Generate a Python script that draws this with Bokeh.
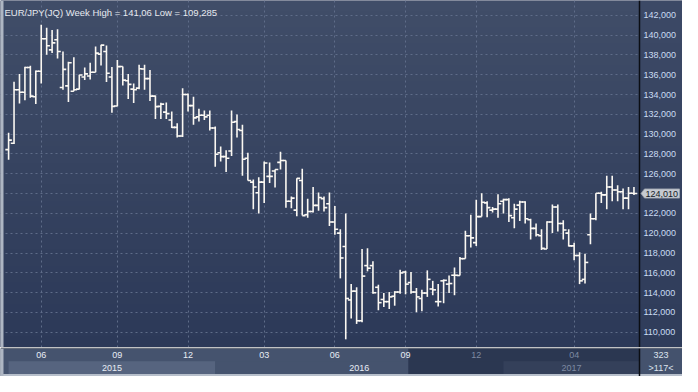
import numpy as np
from bokeh.plotting import figure
from bokeh.models import Range1d, FixedTicker, CustomJSTickFormatter, Label, ColumnDataSource
from bokeh.layouts import column
from bokeh.embed import file_html
from bokeh.resources import INLINE
from bokeh.core.properties import value

# ---------------- data (weekly OHLC, EUR/JPY) ----------------
opens = [128.44, 129.09, 134.49, 134.23, 136.74, 133.78, 136.35, 139.63, 138.51, 139.54,
         134.71, 134.88, 134.33, 134.55, 135.77, 135.87, 136.26, 138.09, 138.35, 135.77,
         132.85, 136.84, 135.39, 134.55, 134.65, 136.58, 135.61, 133.84, 132.81, 132.23,
         131.43, 130.69, 129.82, 134.01, 132.88, 131.75, 131.91, 131.91, 130.63, 128.12,
         127.73, 128.31, 131.27, 130.37, 127.57, 125.16, 124.09, 125.16, 125.74, 126.29,
         127.15, 127.35, 123.23, 122.33, 125.32, 121.87, 122.19, 122.81, 123.49, 122.97,
         121.13, 120.01, 118.66, 113.26, 114.15, 111.16, 116.73, 116.73, 114.54, 113.31,
         113.09, 113.64, 114.06, 116.08, 115.02, 114.06, 113.41, 113.96, 114.37, 113.09,
         115.19, 114.86, 115.76, 115.73, 117.43, 119.75, 119.05, 121.68, 123.06, 122.33,
         122.43, 123.23, 123.39, 121.56, 122.84, 123.16, 121.36, 120.49, 119.75, 118.40,
         121.13, 122.65, 120.98, 120.01, 118.72, 117.75, 115.34, 119.85, 121.46, 124.03,
         123.87, 124.67, 124.36, 124.19, 123.54, 124.03]
highs = [130.15, 135.29, 136.09, 136.81, 136.90, 136.42, 141.06, 140.76, 140.53, 140.60,
         138.35, 137.32, 137.77, 136.00, 136.74, 137.22, 138.86, 139.03, 138.96, 136.79,
         137.48, 136.84, 136.09, 135.13, 137.00, 137.00, 136.48, 133.91, 133.18, 133.20,
         132.30, 131.11, 134.65, 134.10, 133.78, 132.56, 132.40, 132.40, 130.78, 128.76,
         128.37, 132.40, 131.98, 130.95, 128.12, 125.42, 125.64, 127.25, 127.15, 126.44,
         128.22, 127.35, 123.71, 125.54, 126.51, 123.49, 124.67, 124.12, 123.71, 124.12,
         122.74, 120.40, 122.00, 114.86, 114.54, 118.40, 118.47, 117.17, 114.80, 113.96,
         114.06, 114.15, 116.31, 116.21, 116.08, 114.47, 114.28, 116.25, 115.19, 114.86,
         115.34, 115.73, 116.54, 117.60, 120.26, 121.87, 123.39, 124.03, 123.23, 122.65,
         123.93, 123.49, 123.54, 122.97, 123.29, 123.23, 121.46, 120.98, 120.40, 121.20,
         122.91, 122.91, 121.30, 120.40, 119.05, 118.08, 117.92, 121.99, 124.03, 124.19,
         125.80, 125.80, 124.84, 124.51, 124.67, 124.67]
lows = [127.41, 129.02, 133.10, 133.43, 133.68, 133.04, 135.13, 138.02, 138.19, 137.64,
        134.49, 133.26, 134.33, 134.52, 135.48, 135.53, 136.26, 136.93, 135.26, 132.17,
        132.81, 134.91, 133.55, 133.14, 134.55, 134.49, 133.36, 131.53, 131.53, 131.53,
        130.63, 129.66, 129.72, 132.30, 130.95, 131.27, 131.43, 130.37, 126.70, 127.25,
        126.19, 127.79, 129.66, 125.80, 125.32, 122.43, 122.00, 123.06, 125.06, 124.61,
        126.44, 122.58, 122.52, 121.71, 121.78, 121.56, 122.10, 122.26, 122.19, 120.72,
        119.85, 115.44, 109.285, 111.38, 110.84, 111.00, 116.15, 113.89, 112.22, 112.54,
        112.35, 112.68, 113.89, 113.83, 113.89, 112.03, 112.13, 113.57, 113.74, 112.61,
        112.93, 113.96, 113.74, 115.73, 117.43, 118.56, 118.72, 121.68, 121.61, 122.10,
        121.56, 122.00, 121.13, 120.49, 121.23, 120.98, 119.37, 119.68, 118.30, 118.40,
        120.01, 120.17, 119.37, 118.66, 117.27, 114.86, 114.92, 118.88, 121.30, 123.06,
        122.43, 123.23, 123.23, 122.43, 122.43, 123.87]
closes = [129.40, 134.49, 134.23, 136.74, 133.84, 136.35, 139.63, 138.93, 139.22, 138.35,
          136.55, 137.22, 134.49, 135.97, 136.09, 136.26, 138.19, 138.99, 136.16, 132.81,
          136.82, 135.46, 135.03, 134.49, 136.61, 135.61, 133.84, 132.78, 133.04, 132.08,
          130.69, 129.82, 134.01, 132.88, 131.65, 131.91, 131.75, 130.63, 127.98, 127.73,
          127.57, 131.21, 130.47, 127.47, 125.32, 124.67, 125.16, 127.09, 125.74, 126.44,
          127.35, 123.23, 123.54, 125.54, 121.78, 122.19, 122.81, 123.61, 122.58, 121.13,
          120.40, 117.50, 113.41, 114.15, 111.16, 115.67, 116.47, 113.99, 112.99, 113.09,
          113.57, 114.06, 115.99, 114.86, 114.06, 113.57, 113.96, 115.34, 114.28, 113.09,
          115.24, 114.92, 115.76, 117.43, 119.75, 119.53, 121.68, 123.13, 122.58, 122.43,
          122.97, 123.39, 121.78, 122.43, 123.16, 121.46, 120.49, 119.85, 118.47, 121.13,
          122.65, 120.98, 120.33, 118.72, 117.75, 115.19, 117.05, 121.46, 124.03, 123.87,
          124.67, 124.36, 124.19, 123.54, 124.03, 124.01]

month_ticks = [6, 20, 33, 47, 60, 73, 86, 104]          # bar index of first week of month
month_labels = ["06", "09", "12", "03", "06", "09", "12", "04"]
year_labels = ["2015", "2016", "2017"]
year_starts = [0, 38, 91]                                # bar index where each year band starts
price_ticks = list(range(110, 143, 2))
title_text = "EUR/JPY(JQ) Week High = 141,06 Low = 109,285"
last_price = 124.010
window_start = 73.5                                      # start of the darker navigator window
count_text = "323"
zoom_text = ">117<"

# ---------------- layout / style ----------------
W = 682
H_MAIN = 347
H_AX = 29
RIGHT_PANEL = 43
FRAME_W = W - RIGHT_PANEL            # width of the price area
X0, X1 = -1.49, 116.02               # x extent of the price area (bar index units)
Y0, Y1 = 108.46, 143.50
UPP = (X1 - X0) / FRAME_W            # data units per pixel (x)
XR = X0 + W * UPP                    # right edge of the whole canvas
YPP = (Y1 - Y0) / H_MAIN
FONT = "Liberation Sans"
BAR = "#fbf8f2"
TICK = 0.6


def gradient(top, bot, n=64):
    top = np.array(top, dtype=float)
    bot = np.array(bot, dtype=float)
    t = np.linspace(0.0, 1.0, n)[:, None]
    rgb = bot + (top - bot) * t
    img = np.empty((n, 1), dtype=np.uint32)
    view = img.view(dtype=np.uint8).reshape((n, 1, 4))
    view[:, 0, 0:3] = np.round(rgb).astype(np.uint8)
    view[:, 0, 3] = 255
    return img


idx = np.arange(len(closes))
src = ColumnDataSource(dict(x=idx, xl=idx - TICK, xr=idx + TICK,
                            o=opens, h=highs, l=lows, c=closes))

p = figure(width=W, height=H_MAIN, x_range=Range1d(X0, XR), y_range=Range1d(Y0, Y1),
           output_backend="svg", toolbar_location=None,
           min_border_left=0, min_border_right=0, min_border_top=0, min_border_bottom=0,
           y_axis_location="right", x_axis_location=None,
           background_fill_color="#36435f", border_fill_color="#394764",
           outline_line_color=None)

# plot background gradient
p.image_rgba(image=[gradient((64, 77, 104), (44, 57, 88))], x=X0, y=Y0,
             dw=X1 - X0, dh=Y1 - Y0, level="image")
# right price panel (covers grid lines)
p.image_rgba(image=[gradient((60, 73, 102), (47, 60, 90))], x=X1, y=Y0,
             dw=XR - X1, dh=Y1 - Y0)

# left light edge
p.quad(left=X0, right=X0 + 3 * UPP, bottom=Y0, top=Y1, fill_color="#aeb6c3", line_color=None)

# grid
p.xgrid.ticker = FixedTicker(ticks=month_ticks)
p.ygrid.ticker = FixedTicker(ticks=price_ticks)
for g in (p.xgrid, p.ygrid):
    g.grid_line_color = "#5f6c89"
    g.grid_line_dash = "2 3"
    g.grid_line_width = 1

# price axis, drawn at the right edge of the price area
ax = p.yaxis[0]
ax.fixed_location = X1
ax.ticker = FixedTicker(ticks=price_ticks)
ax.formatter = CustomJSTickFormatter(code="return tick.toFixed(3).replace('.', ',');")
ax.axis_line_color = "#0b0e14"
ax.axis_line_width = 1.5
ax.major_tick_line_color = None
ax.minor_tick_line_color = None
ax.major_tick_out = 0
ax.major_tick_in = 0
ax.major_label_standoff = 4
ax.major_label_text_font = FONT
ax.major_label_text_font_size = "9px"
ax.major_label_text_color = "#cadcf2"

# OHLC bars
p.segment(x0="x", y0="l", x1="x", y1="h", source=src, line_color=BAR, line_width=1.6)
p.segment(x0="xl", y0="o", x1="x", y1="o", source=src, line_color=BAR, line_width=1.6)
p.segment(x0="x", y0="c", x1="xr", y1="c", source=src, line_color=BAR, line_width=1.6)

# title
p.add_layout(Label(x=4, y=H_MAIN - 11.5, x_units="screen", y_units="screen", text=title_text,
                   text_font=FONT, text_font_size="9.5px", text_color="#e6e9ef",
                   text_baseline="alphabetic"))

# last price tag on the axis
tag_l = X1 + 5 * UPP
tag_r = X1 + 40 * UPP
half = 4.6 * YPP
p.patch(x=[X1 + 1.5 * UPP, tag_l, tag_r, tag_r, tag_l],
        y=[last_price, last_price + half, last_price + half, last_price - half, last_price - half],
        fill_color="#c6cad1", line_color="#9ea4ae", line_width=0.8, level="overlay")
p.text(x=[tag_l + 1 * UPP], y=[last_price], text=[f"{last_price:.3f}".replace(".", ",")],
       text_font=value(FONT), text_font_size=value("9px"), text_color="#141a26",
       text_baseline="middle", text_align="left", level="overlay")

# ---------------- bottom time axis strip ----------------
b = figure(width=W, height=H_AX, x_range=Range1d(X0, XR), y_range=Range1d(0, H_AX - 1),
           output_backend="svg", toolbar_location=None,
           min_border_left=0, min_border_right=0, min_border_top=1, min_border_bottom=0,
           x_axis_location=None, y_axis_location=None,
           background_fill_color="#45536e", border_fill_color="#0b0e14",
           outline_line_color=None)
b.grid.visible = False

YR_BOT, YR_TOP = 2.5, 15.3
year_ends = year_starts[1:] + [X1]
band_colors = ["#56647f" if i % 2 == 0 else "#45536e" for i in range(len(year_labels))]
b.quad(left=year_starts, right=year_ends, bottom=YR_BOT, top=YR_TOP,
       fill_color=band_colors, line_color=None)
# navigator window overlay
b.quad(left=window_start, right=X1, bottom=YR_BOT, top=H_AX - 1,
       fill_color="#0e1730", fill_alpha=0.47, line_color=None)
# bottom light edge, left light edge
b.quad(left=X0, right=XR, bottom=0, top=YR_BOT, fill_color="#b7bfcb", line_color=None)
b.quad(left=X0, right=X0 + 3 * UPP, bottom=0, top=H_AX - 1, fill_color="#aeb6c3", line_color=None)
# right info box
b.quad(left=X1, right=XR, bottom=YR_BOT, top=H_AX - 1, fill_color="#44526d", line_color=None)
b.segment(x0=[X1], y0=[0], x1=[X1], y1=[H_AX - 1], line_color="#0b0e14", line_width=1.5)

m_colors = ["#e8edf5" if m < window_start else "#7e8aa2" for m in month_ticks]
b.text(x=month_ticks, y=[21.5] * len(month_ticks), text=month_labels, text_color=m_colors,
       text_font=value(FONT), text_font_size=value("9px"), text_align="center",
       text_baseline="middle")
year_centers = [(s + e) / 2 for s, e in zip(year_starts, year_ends)]
y_colors = ["#e8edf5" if c < window_start else "#7e8aa2" for c in year_centers]
b.text(x=year_centers, y=[9.0] * len(year_labels), text=year_labels, text_color=y_colors,
       text_font=value(FONT), text_font_size=value("9px"), text_align="center",
       text_baseline="middle")
b.text(x=[(X1 + XR) / 2] * 2, y=[21.5, 9.0], text=[count_text, zoom_text],
       text_color="#dde4ee", text_font=value(FONT), text_font_size=value("9px"),
       text_align="center", text_baseline="middle")

layout = column(p, b, spacing=0)
open("out.html", "w").write(file_html(layout, INLINE))
